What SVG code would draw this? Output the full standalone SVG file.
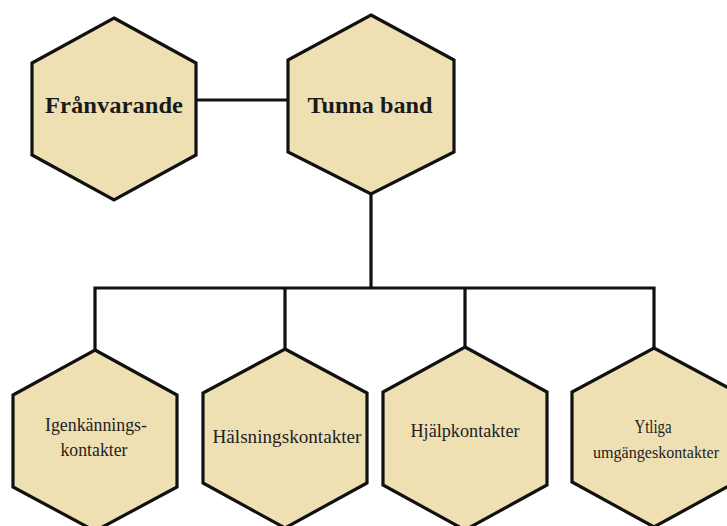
<svg xmlns="http://www.w3.org/2000/svg" width="727" height="526" viewBox="0 0 727 526">
<style>
.hex{fill:#EFE0B4;stroke:#111;stroke-width:3.2;stroke-linejoin:miter}
.con{stroke:#111;stroke-width:3.2;fill:none}
.big{font-family:"Liberation Serif","Times New Roman",serif;font-weight:bold;font-size:24px;fill:#1a1a1a;text-anchor:middle}
.sm{font-family:"Liberation Serif","Times New Roman",serif;font-size:19px;fill:#222;text-anchor:middle}
</style>
<rect width="727" height="526" fill="#fff"/>
<g id="connectors">
<line class="con" x1="196" y1="100" x2="288" y2="100"/>
<line class="con" x1="371" y1="194" x2="371" y2="288"/>
<polyline class="con" points="95,349 95,288 654,288 654,348"/>
<line class="con" x1="285" y1="288" x2="285" y2="349"/>
<line class="con" x1="465" y1="288" x2="465" y2="347"/>
</g>
<g id="franvarande">
<polygon class="hex" points="114,18 196,63 196,155 114,200 32,155 32,63"/>
<text class="big" x="114" y="113" textLength="138" lengthAdjust="spacingAndGlyphs">Frånvarande</text>
</g>
<g id="tunna-band">
<polygon class="hex" points="371,15 454,60 454,152 371,194 288,152 288,60"/>
<text class="big" x="370" y="113" textLength="125" lengthAdjust="spacingAndGlyphs">Tunna band</text>
</g>
<g id="igenkanning">
<polygon class="hex" points="95,350 177,395 177,487 95,531 13,487 13,395"/>
<text class="sm" x="96" y="431" textLength="102" lengthAdjust="spacingAndGlyphs">Igenkännings-</text>
<text class="sm" x="94" y="456" textLength="67" lengthAdjust="spacingAndGlyphs">kontakter</text>
</g>
<g id="halsning">
<polygon class="hex" points="285,349 367,393 367,483 285,528 203,483 203,393"/>
<text class="sm" x="287" y="443" textLength="149" lengthAdjust="spacingAndGlyphs">Hälsningskontakter</text>
</g>
<g id="hjalp">
<polygon class="hex" points="465,347 547,392 547,485 465,530 383,485 383,392"/>
<text class="sm" x="465" y="437" textLength="109" lengthAdjust="spacingAndGlyphs">Hjälpkontakter</text>
</g>
<g id="ytliga">
<polygon class="hex" points="654,348 736,392 736,482 654,527 572,482 572,392"/>
<text class="sm" x="653" y="433" textLength="37" lengthAdjust="spacingAndGlyphs">Ytliga</text>
<text class="sm" x="656" y="458" style="font-size:16px" textLength="126" lengthAdjust="spacingAndGlyphs">umgängeskontakter</text>
</g>
</svg>
